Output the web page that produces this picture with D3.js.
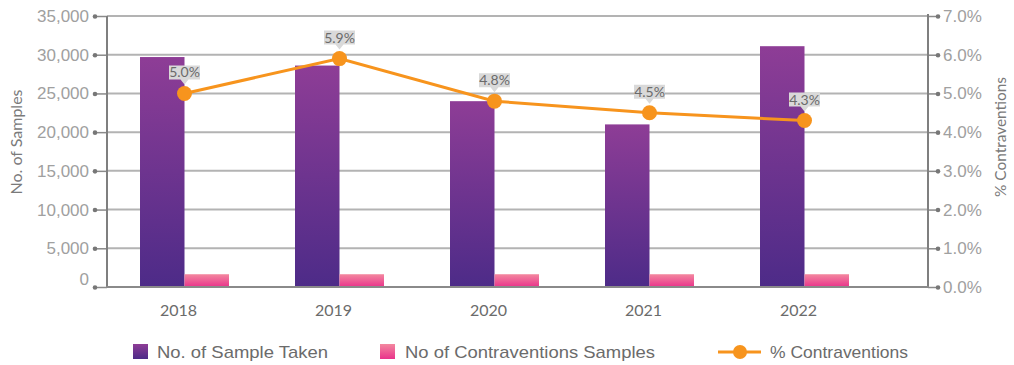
<!DOCTYPE html>
<html><head><meta charset="utf-8">
<script src="https://cdn.jsdelivr.net/npm/d3@7"></script>
<style>body{margin:0;background:#fff;} svg{display:block;font-family:Lato,"Open Sans",sans-serif;}</style>
</head><body><svg id="c" width="1014" height="365"></svg>
<script>
const categories = ["2018","2019","2020","2021","2022"];
const samplesTaken = [29700, 28600, 24000, 21000, 31100];
const contraventionSamples = [1650, 1650, 1650, 1650, 1650];
const pctContraventions = [5.0, 5.9, 4.8, 4.5, 4.3];
const leftTicks = [0,5000,10000,15000,20000,25000,30000,35000];
const rightTicks = [0,1,2,3,4,5,6,7];
const seriesNames = ["No. of Sample Taken","No of Contraventions Samples","% Contraventions"];

const svg = d3.select("#c");
const L = 107, R = 928, T = 16, B = 287;
const x = d3.scaleBand().domain(categories).range([L, 882]).padding(0);
const yL = d3.scaleLinear().domain([0,35000]).range([B,T]);
const yR = d3.scaleLinear().domain([0,7]).range([B,T]);
const barW = 44.5;

const defs = svg.append("defs");
function grad(id, a, b){
  const g = defs.append("linearGradient").attr("id",id).attr("x1",0).attr("y1",0).attr("x2",0).attr("y2",1);
  g.append("stop").attr("offset","0%").attr("stop-color",a);
  g.append("stop").attr("offset","100%").attr("stop-color",b);
}
grad("gp","#8e3d96","#4d2b88");
grad("gk","#f3889f","#e9338b");

// gridlines
svg.append("g").selectAll("line").data(leftTicks.slice(1)).join("line")
  .attr("x1",L).attr("x2",R).attr("y1",d=>yL(d)).attr("y2",d=>yL(d))
  .attr("stroke","#b3b3b3").attr("stroke-width",2);

// left axis
const axL = svg.append("g").attr("transform",`translate(${L},0)`)
  .call(d3.axisLeft(yL).tickValues(leftTicks).tickSize(12).tickPadding(6).tickFormat(d3.format(",")));
axL.select(".domain").remove();
axL.selectAll(".tick line").attr("stroke","#8a8a8a").attr("stroke-width",1.5);
axL.selectAll(".tick").append("circle").attr("cx",-12).attr("r",2.3).attr("fill","#777");
axL.selectAll(".tick text").attr("fill","#a0a0a0").style("font-size","17px").style("font-weight",300)
  .attr("dy",(d)=> d===0 ? "-0.12em" : "0.32em");

// right axis
const axR = svg.append("g").attr("transform",`translate(${R},0)`)
  .call(d3.axisRight(yR).tickValues(rightTicks).tickSize(10).tickPadding(5).tickFormat(d=>d3.format(".1f")(d)+"%"));
axR.select(".domain").remove();
axR.selectAll(".tick line").attr("stroke","#8a8a8a").attr("stroke-width",1.5);
axR.selectAll(".tick").append("circle").attr("cx",10).attr("r",2.3).attr("fill","#777");
axR.selectAll(".tick text").attr("fill","#a0a0a0").style("font-size","17px").style("font-weight",300);

// bars
svg.append("g").selectAll("rect").data(categories).join("rect")
  .attr("x",(d)=>x(d)+x.bandwidth()/2-barW).attr("width",barW)
  .attr("y",(d,i)=>yL(samplesTaken[i])).attr("height",(d,i)=>B-yL(samplesTaken[i]))
  .attr("fill","url(#gp)");
svg.append("g").selectAll("rect").data(categories).join("rect")
  .attr("x",(d)=>x(d)+x.bandwidth()/2).attr("width",barW)
  .attr("y",(d,i)=>yL(contraventionSamples[i])).attr("height",(d,i)=>B-yL(contraventionSamples[i]))
  .attr("fill","url(#gk)");

// axis lines
svg.append("line").attr("x1",L).attr("x2",L).attr("y1",T).attr("y2",B).attr("stroke","#7f7f7f").attr("stroke-width",2);
svg.append("line").attr("x1",R).attr("x2",R).attr("y1",T-2).attr("y2",B).attr("stroke","#7f7f7f").attr("stroke-width",2);
svg.append("line").attr("x1",L-1).attr("x2",R+1).attr("y1",B).attr("y2",B).attr("stroke","#8a8a8a").attr("stroke-width",2);

// x labels
svg.append("g").selectAll("text").data(categories).join("text")
  .attr("x",d=>x(d)+x.bandwidth()/2-6).attr("y",316).attr("text-anchor","middle")
  .attr("fill","#6b6b6b").style("font-size","16px").text(d=>d);

// line
const cx = d=>x(d)+x.bandwidth()/2;
const line = d3.line().x((d,i)=>cx(categories[i])).y(d=>yR(d));
svg.append("path").datum(pctContraventions).attr("d",line).attr("fill","none")
  .attr("stroke","#f7941d").attr("stroke-width",3);
svg.append("g").selectAll("circle").data(pctContraventions).join("circle")
  .attr("cx",(d,i)=>cx(categories[i])).attr("cy",d=>yR(d)).attr("r",7.5).attr("fill","#f7941d");

// data labels
const lab = svg.append("g").selectAll("g").data(pctContraventions).join("g")
  .attr("transform",(d,i)=>`translate(${cx(categories[i])},${yR(d)})`);
lab.append("path").attr("d","M-15.5,-28 L15.5,-28 L15.5,-14 L4,-14 L0,-9 L-4,-14 L-15.5,-14 Z").attr("fill","#d9d9d9");
lab.append("text").attr("y",-16).attr("text-anchor","middle").attr("fill","#6b6b6b")
  .style("font-size","14px").text(d=>d3.format(".1f")(d)+"%");

// axis titles
svg.append("text").attr("transform","translate(22,142) rotate(-90)").attr("text-anchor","middle")
  .attr("fill","#7a7a7a").style("font-size","16px").text("No. of Samples");
svg.append("text").attr("transform","translate(1006,137) rotate(-90)").attr("text-anchor","middle")
  .attr("fill","#7a7a7a").style("font-size","16px").attr("textLength",120).attr("lengthAdjust","spacingAndGlyphs").text("% Contraventions");

// legend
const lg = svg.append("g");
lg.append("rect").attr("x",133).attr("y",344).attr("width",15).attr("height",15).attr("fill","url(#gp)");
lg.append("text").attr("x",157).attr("y",358).attr("fill","#6b6b6b").style("font-size","17px").style("font-family","'Liberation Sans',Arial")
  .attr("textLength",171).attr("lengthAdjust","spacingAndGlyphs").text(seriesNames[0]);
lg.append("rect").attr("x",380).attr("y",344).attr("width",15).attr("height",15).attr("fill","url(#gk)");
lg.append("text").attr("x",405).attr("y",358).attr("fill","#6b6b6b").style("font-size","17px").style("font-family","'Liberation Sans',Arial")
  .attr("textLength",250).attr("lengthAdjust","spacingAndGlyphs").text(seriesNames[1]);
lg.append("line").attr("x1",718).attr("x2",761).attr("y1",352).attr("y2",352).attr("stroke","#f7941d").attr("stroke-width",3);
lg.append("circle").attr("cx",740).attr("cy",352).attr("r",7).attr("fill","#f7941d");
lg.append("text").attr("x",770).attr("y",358).attr("fill","#6b6b6b").style("font-size","17px").style("font-family","'Liberation Sans',Arial")
  .attr("textLength",138).attr("lengthAdjust","spacingAndGlyphs").text(seriesNames[2]);
</script></body></html>
